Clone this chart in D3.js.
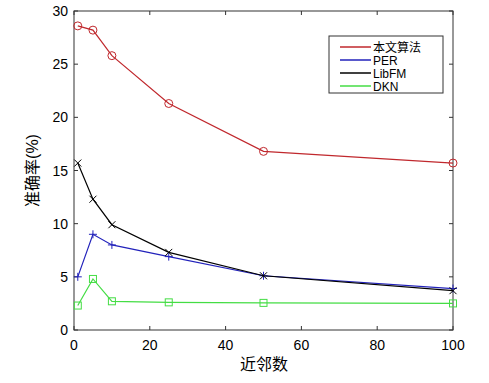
<!DOCTYPE html>
<html><head><meta charset="utf-8">
<script src="https://cdn.jsdelivr.net/npm/d3@7"></script>
<style>body{margin:0;background:#fff}svg{display:block}text{font-family:Arial,"Liberation Sans","Noto Sans CJK SC",sans-serif}</style>
</head><body><svg id="c" width="489" height="383"></svg>
<script>
const xs = [1, 5, 10, 25, 50, 100];
const seriesNames = ["本文算法", "PER", "LibFM", "DKN"];
const ours = [28.6, 28.2, 25.8, 21.3, 16.8, 15.7];
const per = [5.0, 9.0, 8.0, 6.9, 5.1, 3.9];
const libfm = [15.7, 12.3, 9.9, 7.3, 5.1, 3.7];
const dkn = [2.3, 4.8, 2.7, 2.6, 2.55, 2.5];
const xTicks = [0, 20, 40, 60, 80, 100];
const yTicks = [0, 5, 10, 15, 20, 25, 30];

const colors = ["#c0282d", "#2222bb", "#000000", "#44dd44"];
const markers = ["circle", "plus", "cross", "square"];
const data = [ours, per, libfm, dkn];

const svg = d3.select("#c");
const L = 74, R = 453, T = 11, B = 330;
const x = d3.scaleLinear().domain([0, 100]).range([L, R]);
const y = d3.scaleLinear().domain([0, 30]).range([B, T]);

svg.append("rect").attr("x", L).attr("y", T).attr("width", R - L).attr("height", B - T)
  .attr("fill", "#fff").attr("stroke", "#333").attr("stroke-width", 1);

const tl = 4;
const gx = svg.append("g");
xTicks.forEach(t => {
  gx.append("line").attr("x1", x(t)).attr("x2", x(t)).attr("y1", B).attr("y2", B - tl).attr("stroke", "#333");
  gx.append("line").attr("x1", x(t)).attr("x2", x(t)).attr("y1", T).attr("y2", T + tl).attr("stroke", "#333");
  gx.append("text").attr("x", x(t)).attr("y", B + 20).attr("text-anchor", "middle").attr("font-size", 14).text(t);
});
yTicks.forEach(t => {
  gx.append("line").attr("x1", L).attr("x2", L + tl).attr("y1", y(t)).attr("y2", y(t)).attr("stroke", "#333");
  gx.append("line").attr("x1", R).attr("x2", R - tl).attr("y1", y(t)).attr("y2", y(t)).attr("stroke", "#333");
  gx.append("text").attr("x", L - 6).attr("y", y(t) + 5).attr("text-anchor", "end").attr("font-size", 14).text(t);
});

svg.append("text").attr("x", 264).attr("y", 370).attr("text-anchor", "middle").attr("font-size", 16).text("近邻数");
svg.append("text").attr("transform", `translate(38,${(T + B) / 2}) rotate(-90)`).attr("text-anchor", "middle")
  .attr("font-size", 16).text("准确率(%)");

function marker(g, type, cx, cy, col) {
  const s = 4;
  if (type === "circle") g.append("circle").attr("cx", cx).attr("cy", cy).attr("r", s).attr("fill", "none").attr("stroke", col);
  else if (type === "square") g.append("rect").attr("x", cx - 3.5).attr("y", cy - 3.5).attr("width", 7).attr("height", 7).attr("fill", "none").attr("stroke", col);
  else if (type === "plus") {
    g.append("line").attr("x1", cx - s).attr("x2", cx + s).attr("y1", cy).attr("y2", cy).attr("stroke", col);
    g.append("line").attr("x1", cx).attr("x2", cx).attr("y1", cy - s).attr("y2", cy + s).attr("stroke", col);
  } else {
    g.append("line").attr("x1", cx - 3.5).attr("x2", cx + 3.5).attr("y1", cy - 3.5).attr("y2", cy + 3.5).attr("stroke", col);
    g.append("line").attr("x1", cx - 3.5).attr("x2", cx + 3.5).attr("y1", cy + 3.5).attr("y2", cy - 3.5).attr("stroke", col);
  }
}

const line = d3.line().x((d, i) => x(xs[i])).y(d => y(d));
[3, 1, 2, 0].forEach(k => {
  const g = svg.append("g");
  g.append("path").attr("d", line(data[k])).attr("fill", "none").attr("stroke", colors[k]).attr("stroke-width", 1.2);
  data[k].forEach((v, i) => marker(g, markers[k], x(xs[i]), y(v), colors[k]));
});

const lg = svg.append("g");
lg.append("rect").attr("x", 329).attr("y", 36).attr("width", 114).attr("height", 57).attr("fill", "#fff").attr("stroke", "#333");
seriesNames.forEach((n, i) => {
  const yy = 47 + i * 13;
  lg.append("line").attr("x1", 340).attr("x2", 371).attr("y1", yy).attr("y2", yy).attr("stroke", colors[i]).attr("stroke-width", 1.5);
  lg.append("text").attr("x", 373).attr("y", yy + 4.5).attr("font-size", 12).text(n);
});
</script></body></html>
